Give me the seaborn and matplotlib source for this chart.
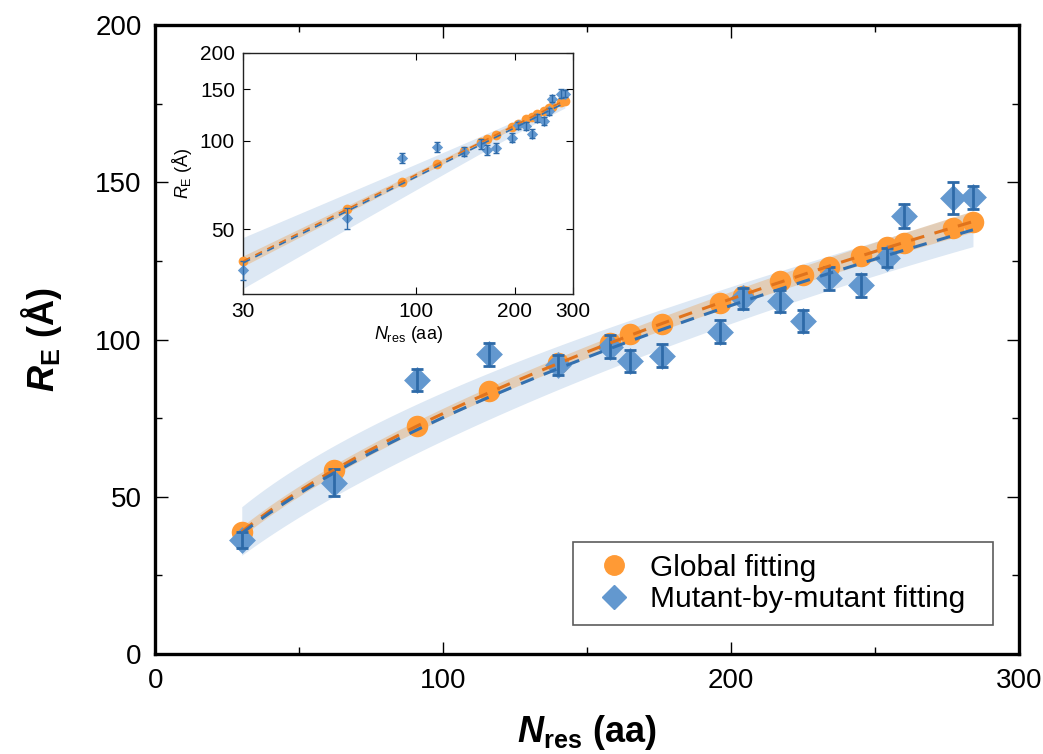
import numpy as np
import pandas as pd
import matplotlib
matplotlib.use("Agg")
import matplotlib.pyplot as plt
import seaborn as sns
from matplotlib.ticker import FixedLocator, FixedFormatter, MultipleLocator, NullLocator
from matplotlib.lines import Line2D

# ---------------- data ----------------
n_res = [30, 62, 91, 116, 140, 158, 165, 176, 196, 204, 217, 225, 234, 245, 254, 260, 277, 284]
re_global = [38.9, 58.4, 72.4, 83.5, 92.6, 99.0, 101.7, 105.1, 111.7, 113.9, 118.5,
             120.5, 123.2, 126.5, 129.5, 130.7, 135.6, 137.3]
re_mutant = [36.2, 54.5, 87.3, 95.3, 91.9, 97.7, 93.2, 94.9, 102.5, 113.1, 112.3,
             105.9, 119.5, 117.3, 126.1, 139.3, 144.9, 145.2]
re_mutant_err = [2.6, 4.3, 3.5, 3.6, 3.2, 3.7, 3.6, 3.6, 3.7, 3.4, 3.6, 3.6, 3.7,
                 3.6, 3.1, 3.7, 5.1, 3.6]

# power-law fit parameters  R = a * N^nu
mm_prefactor = 5.72
mm_nu = 0.5595
mm_band_sa = 0.040      # log-prefactor uncertainty
mm_band_snu = 0.085     # exponent uncertainty
mm_band_pivot = 300.0
gl_band_sa = 0.020
gl_band_snu = 0.022
gl_band_pivot = 150.0

main_xticks = [0, 100, 200, 300]
main_yticks = [0, 50, 100, 150, 200]
inset_xticks = [30, 100, 200, 300]
inset_yticks = [50, 100, 150, 200]
legend_labels = ['Global fitting', 'Mutant-by-mutant fitting']

# ---------------- style ----------------
sns.set_theme(style="ticks")
plt.rcParams['font.family'] = ['Liberation Sans', 'DejaVu Sans']
plt.rcParams['mathtext.fontset'] = 'custom'
plt.rcParams['mathtext.rm'] = 'Liberation Sans'
plt.rcParams['mathtext.it'] = 'Liberation Sans:italic'
plt.rcParams['mathtext.bf'] = 'Liberation Sans:bold'
plt.rcParams['mathtext.bfit'] = 'Liberation Sans:bold:italic'
plt.rcParams['text.color'] = 'black'
plt.rcParams['axes.labelcolor'] = 'black'
plt.rcParams['xtick.color'] = 'black'
plt.rcParams['ytick.color'] = 'black'

C_OR = '#ff9a35'
C_OR_LINE = '#e0731c'
C_BL = '#6398cf'
C_BL_ERR = '#2e6aa8'
C_BL_LINE = '#3270b0'
C_BL_BAND = '#dde8f4'
C_OR_BAND = '#e3c9ad'

df = pd.DataFrame({'N': n_res, 'Rg': re_global, 'Rm': re_mutant, 'err': re_mutant_err})

# fits
N = np.array(n_res, float)
gl_nu, gl_lna = np.polyfit(np.log(N), np.log(re_global), 1)
Nf = np.geomspace(N.min(), N.max(), 300)
gl_fit = np.exp(gl_lna) * Nf ** gl_nu
mm_fit = mm_prefactor * Nf ** mm_nu
w_mm = np.sqrt(mm_band_sa ** 2 + (np.log(Nf) - np.log(mm_band_pivot)) ** 2 * mm_band_snu ** 2)
w_gl = np.sqrt(gl_band_sa ** 2 + (np.log(Nf) - np.log(gl_band_pivot)) ** 2 * gl_band_snu ** 2)
fit_df = pd.DataFrame({'N': Nf, 'gl': gl_fit, 'mm': mm_fit})

fig = plt.figure(figsize=(10.43, 7.54), dpi=100)
ax = fig.add_axes([0.149, 0.1326, 0.828, 0.834])
axin = fig.add_axes([0.2333, 0.610, 0.3158, 0.320])


def draw(a, small=False):
    ms_o = 7 if small else 15.5
    ms_d = 8 if small else 19
    lw = 1.2 if small else 2.2
    a.fill_between(Nf, mm_fit * np.exp(-w_mm), mm_fit * np.exp(w_mm), color=C_BL_BAND,
                   lw=0, zorder=1)
    a.fill_between(Nf, gl_fit * np.exp(-w_gl), gl_fit * np.exp(w_gl), color=C_OR_BAND,
                   lw=0, zorder=2, alpha=0.85)
    sns.scatterplot(data=df, x='N', y='Rg', ax=a, color=C_OR, marker='o', s=ms_o ** 2,
                    linewidth=0, zorder=3, clip_on=False, legend=False)
    sns.scatterplot(data=df, x='N', y='Rm', ax=a, color=C_BL, marker='D', s=(ms_d * 0.72) ** 2,
                    linewidth=0, zorder=4, clip_on=False, legend=False)
    a.errorbar(df['N'], df['Rm'], yerr=df['err'], fmt='none', ecolor=C_BL_ERR,
               elinewidth=1.0 if small else 2.0, capsize=2 if small else 4.5,
               capthick=1.0 if small else 2.0, zorder=5, clip_on=False)
    sns.lineplot(data=fit_df, x='N', y='gl', ax=a, color=C_OR_LINE, lw=lw, zorder=6,
                 legend=False)
    a.lines[-1].set_dashes((4.5, 3.5))
    sns.lineplot(data=fit_df, x='N', y='mm', ax=a, color=C_BL_LINE, lw=lw, zorder=6,
                 legend=False)
    a.lines[-1].set_dashes((4.5, 3.5))


draw(ax)
draw(axin, small=True)

# main axes formatting
ax.set_xlim(0, 300)
ax.set_ylim(0, 200)
ax.xaxis.set_major_locator(FixedLocator(main_xticks))
ax.yaxis.set_major_locator(FixedLocator(main_yticks))
ax.xaxis.set_minor_locator(MultipleLocator(50))
ax.yaxis.set_minor_locator(MultipleLocator(25))
ax.tick_params(which='both', direction='in', top=True, right=True, labelsize=20)
ax.tick_params(which='major', length=9, width=1.0, pad=10)
ax.tick_params(which='minor', length=5, width=1.0)
for s in ax.spines.values():
    s.set_linewidth(2.4)
    s.set_color('black')
ax.set_xlabel(r'$\mathbfit{N}_{\mathbf{res}}$ (aa)', fontsize=26, fontweight='bold',
              labelpad=14)
ax.set_ylabel(r'$\mathbfit{R}_{\mathbf{E}}$ (Å)', fontsize=26, fontweight='bold',
              labelpad=22)

handles = [Line2D([], [], marker='o', color=C_OR, ls='none', markersize=14),
           Line2D([], [], marker='D', color=C_BL, ls='none', markersize=12.5)]
leg = ax.legend(handles, legend_labels, loc='lower left', mode='expand',
                bbox_to_anchor=(0.483, 0.046, 0.487, 0.121), borderaxespad=0, fontsize=21.5,
                frameon=True, fancybox=False, handletextpad=0.2, borderpad=0.4,
                labelspacing=0.12, handlelength=2.0)
leg.get_frame().set_edgecolor('#333333')
leg.get_frame().set_linewidth(1.2)

# inset formatting
axin.set_xscale('log')
axin.set_yscale('log')
axin.set_xlim(30, 300)
axin.set_ylim(30, 200)
axin.xaxis.set_major_locator(FixedLocator(inset_xticks))
axin.xaxis.set_major_formatter(FixedFormatter([str(t) for t in inset_xticks]))
axin.xaxis.set_minor_locator(NullLocator())
axin.yaxis.set_major_locator(FixedLocator(inset_yticks))
axin.yaxis.set_major_formatter(FixedFormatter([str(t) for t in inset_yticks]))
axin.yaxis.set_minor_locator(NullLocator())
axin.tick_params(which='both', direction='in', top=True, right=True, labelsize=15,
                 length=5, width=0.8, pad=6)
for s in axin.spines.values():
    s.set_linewidth(1.0)
    s.set_color('#222222')
axin.set_xlabel(r'$\mathit{N}_{\mathrm{res}}$ (aa)', fontsize=13, labelpad=2)
axin.set_ylabel(r'$\mathit{R}_{\mathrm{E}}$ (Å)', fontsize=13, labelpad=4)
axin.set_facecolor('white')

fig.savefig('out.png', dpi=100)
